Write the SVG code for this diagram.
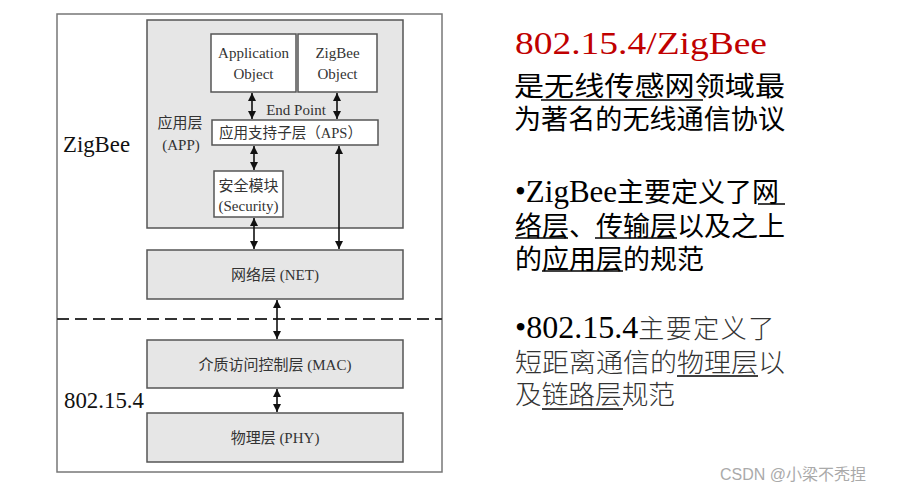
<svg xmlns="http://www.w3.org/2000/svg" width="905" height="494" viewBox="0 0 905 494">
<style>
.box{fill:#e6e6e6;stroke:#555;stroke-width:1.5}
.wbox{fill:#fff;stroke:#555;stroke-width:1.5}
.t{font-family:"Liberation Serif","Noto Sans CJK SC",serif;fill:#333;font-size:15px;text-anchor:middle}
.cj{font-family:"Noto Sans CJK SC",sans-serif;fill:#000;font-size:27px}
.cj2{font-family:"Noto Sans CJK SC",sans-serif;fill:#333;font-size:26px;font-weight:300}
.rom{font-family:"Liberation Serif",serif}
.c{stroke:#111;stroke-width:1.6;fill:none;marker-start:url(#ah);marker-end:url(#ah)}
.ul{stroke:#000;stroke-width:1.5}
</style>
<defs>
<marker id="ah" viewBox="0 0 10 10" refX="10" refY="5" markerWidth="8" markerHeight="8" markerUnits="userSpaceOnUse" orient="auto-start-reverse">
<path d="M0,0 L10,5 L0,10 z" fill="#111"/>
</marker>
</defs>
<rect width="905" height="494" fill="#fff"/>
<g id="outer">
<rect x="57" y="14" width="385" height="458" fill="#fff" stroke="#777" stroke-width="1.5"/>
<line x1="57" y1="319" x2="442" y2="319" stroke="#333" stroke-width="2" stroke-dasharray="12,6"/>
<text x="63" y="152" font-family="Liberation Serif, serif" font-size="23" fill="#111" textLength="67" lengthAdjust="spacingAndGlyphs">ZigBee</text>
<text x="64" y="408" font-family="Liberation Serif, serif" font-size="23" fill="#111" textLength="80" lengthAdjust="spacingAndGlyphs">802.15.4</text>
</g>
<g id="app">
<rect class="box" x="147" y="20" width="256" height="208"/>
<text class="t" x="180" y="128">应用层</text>
<text class="t" x="181" y="150">(APP)</text>
</g>
<g id="appobj">
<rect class="wbox" x="211" y="34" width="85" height="58"/>
<text class="t" x="253.5" y="58">Application</text>
<text class="t" x="253.5" y="79">Object</text>
</g>
<g id="zbobj">
<rect class="wbox" x="298" y="34" width="79" height="58"/>
<text class="t" x="337.5" y="58">ZigBee</text>
<text class="t" x="337.5" y="79">Object</text>
</g>
<g id="endpoint">
<text class="t" x="296" y="115">End Point</text>
</g>
<g id="aps">
<rect class="wbox" x="212" y="120" width="166" height="25"/>
<text class="t" x="219" y="138" style="text-anchor:start" textLength="143" lengthAdjust="spacingAndGlyphs">应用支持子层（APS）</text>
</g>
<g id="security">
<rect class="wbox" x="214" y="171" width="69" height="46"/>
<text class="t" x="248.5" y="191">安全模块</text>
<text class="t" x="248.5" y="211">(Security)</text>
</g>
<g id="net">
<rect class="box" x="147" y="250" width="256" height="49"/>
<text class="t" x="275" y="280">网络层 (NET)</text>
</g>
<g id="mac">
<rect class="box" x="147" y="340" width="256" height="48"/>
<text class="t" x="275" y="370">介质访问控制层 (MAC)</text>
</g>
<g id="phy">
<rect class="box" x="147" y="413" width="256" height="49"/>
<text class="t" x="275" y="443">物理层 (PHY)</text>
</g>
<g id="connectors">
<line class="c" x1="252" y1="93" x2="252" y2="119"/>
<line class="c" x1="337" y1="93" x2="337" y2="119"/>
<line class="c" x1="254" y1="146" x2="254" y2="170"/>
<line class="c" x1="254" y1="218" x2="254" y2="249"/>
<line class="c" x1="339" y1="146" x2="339" y2="249"/>
<line class="c" x1="277" y1="300" x2="277" y2="339"/>
<line class="c" x1="277" y1="389" x2="277" y2="412"/>
</g>
<g id="notes">
<text x="515" y="54" font-family="Liberation Serif, serif" font-size="32" fill="#c00000" textLength="252" lengthAdjust="spacingAndGlyphs">802.15.4/ZigBee</text>
<text class="cj" x="514" y="96" textLength="271" lengthAdjust="spacingAndGlyphs">是无线传感网领域最</text>
<line class="ul" x1="541" y1="100" x2="703" y2="100"/>
<text class="cj" x="514" y="129" textLength="271" lengthAdjust="spacingAndGlyphs">为著名的无线通信协议</text>
<text class="cj" x="515" y="202"><tspan class="rom" font-size="31">•ZigBee</tspan>主要定义了网</text>
<line class="ul" x1="758" y1="204" x2="785" y2="204"/>
<text class="cj" x="515" y="236">络层、传输层以及之上</text>
<line class="ul" x1="515" y1="238" x2="568" y2="238"/>
<line class="ul" x1="595" y1="238" x2="677" y2="238"/>
<text class="cj" x="515" y="269">的应用层的规范</text>
<line class="ul" x1="542" y1="271" x2="623" y2="271"/>
<text class="cj2" x="515" y="338"><tspan class="rom" font-size="32" fill="#000" font-weight="400">•802.15.4</tspan><tspan letter-spacing="1.5">主要定义了</tspan></text>
<text class="cj2" x="515" y="372" textLength="270" lengthAdjust="spacingAndGlyphs">短距离通信的物理层以</text>
<line class="ul" x1="677" y1="376" x2="758" y2="376" stroke="#333"/>
<text class="cj2" x="515" y="404" textLength="160" lengthAdjust="spacingAndGlyphs">及链路层规范</text>
<line class="ul" x1="542" y1="409" x2="623" y2="409" stroke="#333"/>
</g>
<g id="watermark">
<text x="720" y="480" font-family="Liberation Sans, Noto Sans CJK SC, sans-serif" font-size="16" fill="#aaa">CSDN @小梁不秃捏</text>
</g>
</svg>
